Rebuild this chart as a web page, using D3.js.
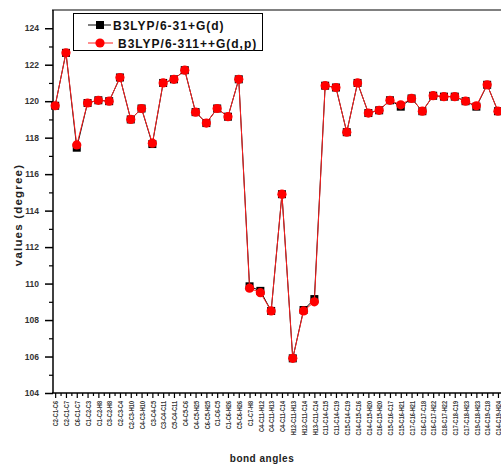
<!DOCTYPE html>
<html><head><meta charset="utf-8">
<script src="https://cdn.jsdelivr.net/npm/d3@7"></script>
<style>body{margin:0;background:#fff}svg{display:block;font-family:"Liberation Sans",Arial,sans-serif}</style>
</head><body><svg id="c" width="501" height="464"></svg>
<script>
const labels = ["C2-C1-C6","C2-C1-C7","C6-C1-C7","C1-C2-C3","C1-C2-H8","C3-C2-H8","C2-C3-C4","C2-C3-H10","C4-C3-H10","C3-C4-C5","C3-C4-C11","C5-C4-C11","C4-C5-C6","C4-C5-H25","C6-C5-H25","C1-C6-C5","C1-C6-H26","C5-C6-H26","C1-C7-H8","C4-C11-H12","C4-C11-H13","C4-C11-C14","H12-C11-H13","H12-C11-C14","H13-C11-C14","C11-C14-C15","C11-C14-C19","C15-C14-C19","C14-C15-C16","C14-C15-H20","C16-C15-H20","C15-C16-C17","C15-C16-H21","C17-C16-H21","C16-C17-C18","C16-C17-H22","C18-C17-H22","C17-C18-C19","C17-C18-H23","C19-C18-H23","C14-C19-C18","C14-C19-H24"];
const seriesNames = ["B3LYP/6-31+G(d)","B3LYP/6-311++G(d,p)"];
const b3lyp631 = [119.75,122.65,117.45,119.9,120.05,120.0,121.3,119.0,119.6,117.65,121.0,121.2,121.7,119.4,118.8,119.6,119.15,121.2,109.85,109.6,108.5,114.9,105.9,108.55,109.15,120.85,120.75,118.3,121.0,119.35,119.5,120.05,119.7,120.15,119.45,120.3,120.25,120.25,120.0,119.7,120.9,119.45];
const b3lyp6311 = [119.75,122.65,117.6,119.9,120.05,120.0,121.3,119.0,119.6,117.7,121.0,121.2,121.7,119.4,118.8,119.6,119.15,121.2,109.75,109.5,108.5,114.9,105.9,108.5,109.0,120.85,120.75,118.3,121.0,119.35,119.5,120.05,119.8,120.15,119.45,120.3,120.25,120.25,120.0,119.75,120.9,119.45];
const yTicks = [104,106,108,110,112,114,116,118,120,122,124];
const yMinor = [105,107,109,111,113,115,117,119,121,123];

const svg = d3.select("#c");
const x = d3.scaleLinear().domain([-0.2, 42]).range([53, 53 + 10.8*42.2]);
const y = d3.scaleLinear().domain([104, 125]).range([393, 10]);

// top border
svg.append("line").attr("x1",52).attr("x2",501).attr("y1",y(125)).attr("y2",y(125))
  .attr("stroke","#808080").attr("stroke-width",2);

// y axis
const ya = svg.append("g").attr("transform","translate(53,0)")
  .call(d3.axisLeft(y).tickValues(yTicks).tickSize(8).tickPadding(6).tickFormat(d3.format("d")));
ya.select(".domain").attr("d",`M0,${y(104)}V${y(125)}`).attr("stroke","#000").attr("stroke-width",1.5);
ya.selectAll(".tick line").attr("stroke-width",1.5);
ya.selectAll(".tick text").attr("font-size",8.5).attr("font-weight","bold").attr("fill","#333");
const ym = svg.append("g").attr("transform","translate(53,0)")
  .call(d3.axisLeft(y).tickValues(yMinor).tickSize(4).tickFormat(""));
ym.select(".domain").remove();
ym.selectAll(".tick line").attr("stroke-width",1.2);

// x axis
const idx = d3.range(labels.length);
const xa = svg.append("g").attr("transform",`translate(0,${y(104)})`)
  .call(d3.axisBottom(x).tickValues(idx).tickSize(5).tickPadding(5).tickFormat(i => labels[i]));
xa.select(".domain").attr("d",`M52,0H501`).attr("stroke","#000").attr("stroke-width",1.5);
xa.selectAll(".tick line").attr("stroke-width",1.2);
xa.selectAll(".tick text")
  .attr("font-size",7).attr("font-weight","bold").attr("fill","#333")
  .attr("text-anchor","end").attr("dy",null).attr("y",null)
  .attr("transform","translate(0,8) rotate(-90) scale(0.8,1)")
  .attr("dominant-baseline","central");
const xm = svg.append("g").attr("transform",`translate(0,${y(104)})`)
  .call(d3.axisBottom(x).tickValues(idx.map(i=>i+0.5)).tickSize(3).tickFormat(""));
xm.select(".domain").remove();
xm.selectAll(".tick line").attr("stroke-width",1.2);

// titles
svg.append("text").attr("x",262).attr("y",462).attr("text-anchor","middle")
  .attr("font-size",10).attr("font-weight","bold").attr("letter-spacing",0.5).attr("fill","#222").text("bond angles");
svg.append("text").attr("transform","translate(22,215) rotate(-90)").attr("text-anchor","middle")
  .attr("font-size",11.5).attr("font-weight","bold").attr("letter-spacing",1.2).attr("fill","#222").text("values (degree)");

// series
const line = d3.line().x((d,i)=>x(i)).y(d=>y(d));
svg.append("path").datum(b3lyp631).attr("d",line).attr("fill","none").attr("stroke","#000").attr("stroke-width",1);
svg.append("g").selectAll("rect").data(b3lyp631).join("rect")
  .attr("x",(d,i)=>x(i)-4).attr("y",d=>y(d)-4).attr("width",8).attr("height",8).attr("fill","#000");
svg.append("path").datum(b3lyp6311).attr("d",line).attr("fill","none").attr("stroke","#ff2020").attr("stroke-width",1);
svg.append("g").selectAll("circle").data(b3lyp6311).join("circle")
  .attr("cx",(d,i)=>x(i)).attr("cy",d=>y(d)).attr("r",4.6).attr("fill","#ff0000");

// legend
const lg = svg.append("g");
lg.append("rect").attr("x",73.5).attr("y",13.5).attr("width",189).attr("height",37)
  .attr("fill","#fff").attr("stroke","#000").attr("stroke-width",1);
lg.append("line").attr("x1",88).attr("x2",111).attr("y1",25).attr("y2",25).attr("stroke","#000");
lg.append("rect").attr("x",96).attr("y",21).attr("width",8).attr("height",8).attr("fill","#000");
lg.append("line").attr("x1",88).attr("x2",113).attr("y1",43).attr("y2",43).attr("stroke","#ff2020");
lg.append("circle").attr("cx",100).attr("cy",43).attr("r",4.6).attr("fill","#ff0000");
lg.append("text").attr("x",113).attr("y",29.5).attr("font-size",12).attr("font-weight","bold")
  .attr("letter-spacing",1).attr("fill","#111").text(seriesNames[0]);
lg.append("text").attr("x",118).attr("y",47.5).attr("font-size",12).attr("font-weight","bold")
  .attr("letter-spacing",1).attr("fill","#111").text(seriesNames[1]);
</script></body></html>
